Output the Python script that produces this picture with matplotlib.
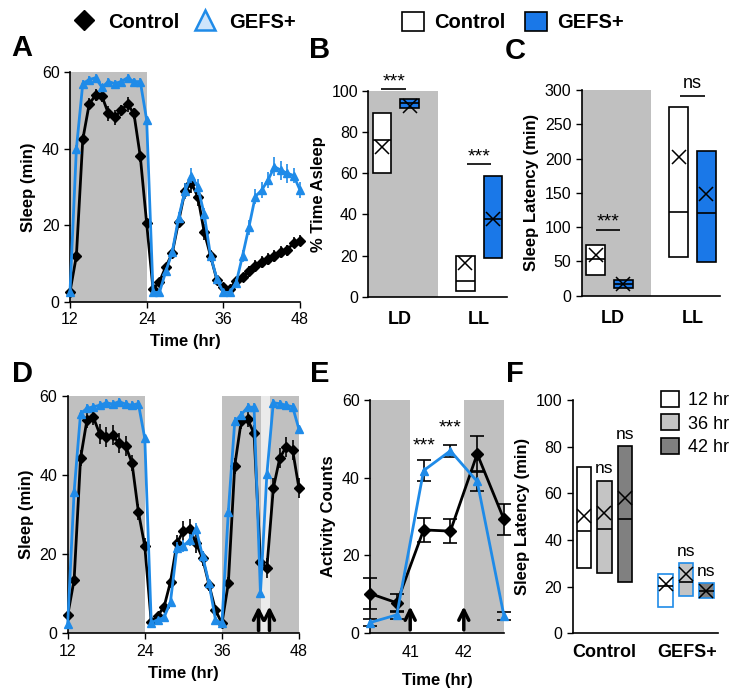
import matplotlib
matplotlib.use("Agg")
import matplotlib.pyplot as plt
from matplotlib.lines import Line2D
from matplotlib.patches import Patch

plt.rcParams["font.family"] = ["Liberation Sans", "DejaVu Sans"]

BLUE = "#1f8be8"
FILL_BLUE = "#1a78e8"
SHADE = "#c0c0c0"
LIGHT_SHADE = "#ebebeb"

# ---- panel A: sleep per hour, LD then LL ----
hours = list(range(12, 49))
A_ctrl = [2.7, 12, 42.4, 51.6, 54, 53.7, 49.2, 48.2, 50, 51.6, 49.2, 38, 20.5,
          3.3, 5.3, 9.2, 12.7, 21, 29, 31, 27.5, 18.3, 12, 5.7, 4, 3.5,
          5.5, 6.5, 8, 9.5, 10.5, 11.2, 12, 13, 13.5, 15.5, 16]
A_ctrl_err = [0.5, 1, 1.5, 1.5, 1.5, 1.5, 2, 2, 1.5, 2, 1.5, 1.5, 1,
              0.5, 0.5, 1, 1, 1.5, 2, 2.5, 2.5, 2, 1.5, 1, 1, 0.5,
              1, 1, 1.5, 1.5, 1.5, 1.5, 1.5, 1.5, 1.5, 1.5, 1.5]
A_gefs = [2.7, 40, 57, 58, 58.5, 56, 57.5, 57, 57.5, 58.5, 57.5, 57.5, 47.5,
          2.5, 2.5, 8, 13, 22, 29, 33, 30, 23, 12, 6, 2.5, 2.5,
          5, 12, 19.5, 27.5, 29.2, 31.8, 35.3, 34.4, 33.6, 33, 29.2]
A_gefs_err = [0.5, 1, 1, 1, 1, 1, 1, 1, 1, 1, 1, 1, 1,
              0.5, 0.5, 1, 1, 1.5, 2, 2, 2, 1.5, 1, 1, 0.5, 0.5,
              1, 1.5, 2, 2, 2, 2, 2.5, 2.5, 2.5, 2, 2]

# ---- panel D: sleep per hour with stimulation at 42 hr ----
D_ctrl = [4.6, 13.5, 44.2, 53.9, 54.5, 50.3, 49.5, 50, 48, 47.3, 43.1, 30.7, 22,
          2.9, 4.4, 6.7, 13, 22.7, 25.9, 26.3, 22.7, 18.9, 12.2, 5.9, 2.5,
          12.6, 42.3, 53.5, 54, 50.5, 18.1, 16.4, 36.6, 44.2, 47.1, 46.3, 36.6]
D_ctrl_err = [1, 1.5, 2, 2, 2, 2.5, 2.5, 2.5, 2.5, 2.5, 2, 2, 2,
              0.5, 1, 1, 1.5, 2, 2.5, 2.5, 2.5, 2, 1.5, 1, 0.5,
              1.5, 2, 2, 2, 2, 2.5, 2.5, 2.5, 2.5, 2.5, 2.5, 2.5]
D_gefs = [2.4, 35.8, 55.5, 56.8, 57.2, 57.6, 58.2, 57.9, 58.5, 57.9, 57.6, 58, 49.2,
          2.7, 3.4, 4, 8, 21.5, 22, 23.6, 26.3, 19.4, 12.6, 3.4, 2.5,
          30.7, 53.5, 55.2, 57.1, 57.1, 10.1, 40.2, 58.2, 58, 57.6, 57.2, 51.5]
D_gefs_err = [0.5, 1, 1, 1, 1, 1, 1, 1, 1, 1, 1, 1, 1,
              0.5, 0.5, 0.5, 1, 1.5, 1.5, 1.5, 1.5, 1.5, 1, 0.5, 0.5,
              1, 1, 1, 1, 1, 1, 1.5, 1, 1, 1, 1, 1]
D_arrows = [41.7, 43.4]

# ---- panel E: activity around the 42 hr stimulus ----
E_time = [40.25, 40.75, 41.25, 41.75, 42.25, 42.75]
E_ctrl = [10.1, 7.7, 26.5, 26.2, 46.1, 29.2]
E_ctrl_err = [4, 2.3, 3, 3, 4.5, 4]
E_gefs = [2.6, 4.6, 41.8, 46.9, 39, 4.3]
E_gefs_err = [1, 1, 2.7, 1.6, 2.5, 1]
E_arrows = [41, 42]

# ---- panel B: % time asleep (box = range, line = median, x = mean) ----
B_groups = ["LD", "LL"]
B_ctrl_low, B_ctrl_high, B_ctrl_med, B_ctrl_mean = [59.9, 2.8], [89, 19.7], [76, 7.6], [72.5, 16.2]
B_gefs_low, B_gefs_high, B_gefs_med, B_gefs_mean = [91.7, 18.9], [96.1, 58.7], [94.2, 37.7], [92.6, 37.7]
B_sig = ["***", "***"]

# ---- panel C: sleep latency ----
C_ctrl_low, C_ctrl_high, C_ctrl_med, C_ctrl_mean = [30.1, 56.9], [73.9, 274.7], [53, 122], [59.3, 202.7]
C_gefs_low, C_gefs_high, C_gefs_med, C_gefs_mean = [10.7, 49.6], [22.8, 211.5], [17, 121], [17, 147.8]
C_sig = ["***", "ns"]

# ---- panel F: sleep latency after 12/36/42 hr ----
F_groups = ["Control", "GEFS+"]
F_times = ["12 hr", "36 hr", "42 hr"]
F_low = [[27.9, 25.7, 22.1], [11.1, 16.1, 15.0]]
F_high = [[71.4, 65.3, 80.1], [25.3, 30.0, 21.4]]
F_med = [[43.9, 44.9, 49.0], [20.3, 21.9, 18.3]]
F_mean = [[50.4, 51.4, 57.9], [21.1, 25.3, 18.3]]
F_sig = [[None, "ns", "ns"], [None, "ns", "ns"]]
F_fills = ["white", "#c4c4c4", "#808080"]

W, H = 748, 694


def rect(l, r, t, b):
    return [l / W, 1 - b / H, (r - l) / W, (b - t) / H]


def style(ax, yticks):
    for s in ("top", "right"):
        ax.spines[s].set_visible(False)
    ax.spines["left"].set_linewidth(1.2)
    ax.spines["bottom"].set_linewidth(1.2)
    ax.set_yticks(yticks)
    ax.tick_params(labelsize=11.5, length=4, width=1)


def sleep_panel(ax, ctrl, ce, gefs, ge):
    ax.errorbar(hours, ctrl, yerr=ce, color="black", lw=2, marker="D", ms=5.5,
                elinewidth=1.2, capsize=0, zorder=3, clip_on=False)
    ax.errorbar(hours, gefs, yerr=ge, color=BLUE, lw=2, marker="^", ms=6,
                elinewidth=1.2, capsize=0, zorder=4, clip_on=False)
    ax.set_xlim(12, 48)
    ax.set_ylim(0, 60)
    ax.set_xticks([12, 24, 36, 48])
    style(ax, [0, 20, 40, 60])
    ax.set_ylabel("Sleep (min)", fontsize=12, fontweight="bold")
    ax.set_xlabel("Time (hr)", fontsize=12, fontweight="bold", labelpad=5)


def box(ax, x, lo, hi, med, mean, fc, ec="black", w=0.27):
    ax.bar(x, hi - lo, bottom=lo, width=w, color=fc, edgecolor=ec, lw=1.2, zorder=3)
    ax.hlines(med, x - w / 2, x + w / 2, color="black", lw=1.2, zorder=4)
    ax.plot(x, mean, marker="x", color="black", ms=10, mew=1.1, zorder=5)


def sig(ax, x0, x1, y, text, gap):
    ax.hlines(y, x0, x1, color="black", lw=1.2, clip_on=False)
    ax.text((x0 + x1) / 2, y + gap, text, ha="center", va="bottom",
            fontsize=13 if text == "ns" else 14, clip_on=False)


def arrow(ax, x):
    ax.annotate("", xy=(x, 7.5), xytext=(x, 0),
                arrowprops=dict(arrowstyle="->", lw=2.5, mutation_scale=18, color="black"))


fig = plt.figure(figsize=(W / 100, H / 100), dpi=100)

# A
axA = fig.add_axes(rect(70, 300, 72, 302))
axA.axvspan(12, 24, color=SHADE, lw=0, zorder=0)
sleep_panel(axA, A_ctrl, A_ctrl_err, A_gefs, A_gefs_err)

# D
axD = fig.add_axes(rect(67.7, 299, 395.7, 633.3))
axD.axvspan(12, 24, color=SHADE, lw=0, zorder=0)
axD.axvspan(36, 42.05, color=SHADE, lw=0, zorder=0)
axD.axvspan(42.05, 43.55, color=LIGHT_SHADE, lw=0, zorder=0)
axD.axvspan(43.55, 48, color=SHADE, lw=0, zorder=0)
sleep_panel(axD, D_ctrl, D_ctrl_err, D_gefs, D_gefs_err)
for xa in D_arrows:
    arrow(axD, xa)

# B and C: two categories with control/GEFS+ side by side
cat_x = [0.45, 1.6]
ctrl_x = [0.2, 1.4]
gefs_x = [0.6, 1.8]

axB = fig.add_axes(rect(368.3, 506.7, 90.7, 296.7))
axB.axvspan(0, 1, color=SHADE, lw=0, zorder=0)
for i in range(2):
    box(axB, ctrl_x[i], B_ctrl_low[i], B_ctrl_high[i], B_ctrl_med[i], B_ctrl_mean[i], "white")
    box(axB, gefs_x[i], B_gefs_low[i], B_gefs_high[i], B_gefs_med[i], B_gefs_mean[i], FILL_BLUE)
sig(axB, 0.19, 0.55, 100.8, B_sig[0], -0.5)
sig(axB, 1.42, 1.78, 64.4, B_sig[1], -0.5)
axB.set_xlim(0, 2)
axB.set_ylim(0, 100)
style(axB, range(0, 101, 20))
axB.set_xticks(cat_x)
axB.set_xticklabels(B_groups, fontsize=13, fontweight="bold")
axB.tick_params(axis="x", length=0, pad=10)
axB.set_ylabel("% Time Asleep", fontsize=12, fontweight="bold")

axC = fig.add_axes(rect(581.7, 720, 90, 295.7))
axC.axvspan(0, 1, color=SHADE, lw=0, zorder=0)
for i in range(2):
    box(axC, ctrl_x[i], C_ctrl_low[i], C_ctrl_high[i], C_ctrl_med[i], C_ctrl_mean[i], "white")
    box(axC, gefs_x[i], C_gefs_low[i], C_gefs_high[i], C_gefs_med[i], C_gefs_mean[i], FILL_BLUE)
sig(axC, 0.2, 0.56, 95.8, C_sig[0], 0)
sig(axC, 1.42, 1.78, 291.7, C_sig[1], 6)
axC.set_xlim(0, 2)
axC.set_ylim(0, 300)
style(axC, range(0, 301, 50))
axC.set_xticks(cat_x)
axC.set_xticklabels(B_groups, fontsize=13, fontweight="bold")
axC.tick_params(axis="x", length=0, pad=10)
axC.set_ylabel("Sleep Latency (min)", fontsize=12, fontweight="bold")

# E
axE = fig.add_axes(rect(370, 504, 400, 632.7))
axE.axvspan(40.25, 41, color=SHADE, lw=0, zorder=0)
axE.axvspan(42, 42.75, color=SHADE, lw=0, zorder=0)
axE.errorbar(E_time, E_ctrl, yerr=E_ctrl_err, color="black", lw=2, marker="D", ms=6,
             elinewidth=1.2, capsize=5, capthick=1.2, zorder=3, clip_on=False)
axE.errorbar(E_time, E_gefs, yerr=E_gefs_err, color=BLUE, lw=2, marker="^", ms=6,
             ecolor="black", elinewidth=1.2, capsize=5, capthick=1.2, zorder=4, clip_on=False)
for xa in E_arrows:
    arrow(axE, xa)
axE.text(41.25, 46, "***", ha="center", va="bottom", fontsize=14)
axE.text(41.75, 50.5, "***", ha="center", va="bottom", fontsize=14)
axE.set_xlim(40.25, 42.75)
axE.set_ylim(0, 60)
style(axE, [0, 20, 40, 60])
axE.set_xticks([41, 42])
axE.tick_params(axis="x", length=0, pad=9)
axE.set_ylabel("Activity Counts", fontsize=12, fontweight="bold")
axE.set_xlabel("Time (hr)", fontsize=12, fontweight="bold", labelpad=9)

# F
axF = fig.add_axes(rect(572.7, 717.7, 400, 633.3))
F_x = [[0.55, 1.55, 2.55], [4.55, 5.55, 6.55]]
for g in range(2):
    ec = "black" if g == 0 else BLUE
    for k in range(3):
        box(axF, F_x[g][k], F_low[g][k], F_high[g][k], F_med[g][k], F_mean[g][k],
            F_fills[k], ec=ec, w=0.7)
        if F_sig[g][k]:
            axF.text(F_x[g][k], F_high[g][k] + 2, F_sig[g][k], ha="center", va="bottom", fontsize=12.5)
axF.set_xlim(0, 7.1)
axF.set_ylim(0, 100)
style(axF, range(0, 101, 20))
axF.set_xticks([1.55, 5.6])
axF.set_xticklabels(F_groups, fontsize=13, fontweight="bold")
axF.tick_params(axis="x", length=0, pad=8)
axF.set_ylabel("Sleep Latency (min)", fontsize=12, fontweight="bold")
axF.legend(handles=[Patch(facecolor=c, edgecolor="black", lw=1.2) for c in F_fills],
           labels=F_times, loc="upper right", bbox_to_anchor=(1.19, 1.11), frameon=False,
           fontsize=13, handlelength=1.0, handleheight=1.0, handletextpad=0.5,
           labelspacing=0.3)

# top legends
fig.legend(handles=[Line2D([], [], color="black", marker="D", ls="", ms=10),
                    Line2D([], [], color=BLUE, marker="^", ls="", ms=14, mfc="#cfe5fb",
                           mec=BLUE, mew=1.8)],
           labels=["Control", "GEFS+"], loc="center", bbox_to_anchor=(186 / W, 1 - 22 / H),
           ncol=2, frameon=False, prop={"weight": "bold", "size": 14.5},
           handlelength=0.8, handletextpad=0.8, columnspacing=0.9)
fig.legend(handles=[Patch(facecolor="white", edgecolor="black", lw=1.2),
                    Patch(facecolor=FILL_BLUE, edgecolor="black", lw=1.2)],
           labels=["Control", "GEFS+"], loc="center", bbox_to_anchor=(513 / W, 1 - 22 / H),
           ncol=2, frameon=False, prop={"weight": "bold", "size": 14.5},
           handlelength=1.1, handleheight=1.1, handletextpad=0.5, columnspacing=1.0)

# panel letters
for lab, x, y in [("A", 22, 48), ("B", 320, 50), ("C", 515, 51),
                  ("D", 22, 374), ("E", 320, 374), ("F", 515, 374)]:
    fig.text(x / W, 1 - y / H, lab, ha="center", va="center", fontsize=21, fontweight="bold")

fig.savefig("out.png", dpi=100)
